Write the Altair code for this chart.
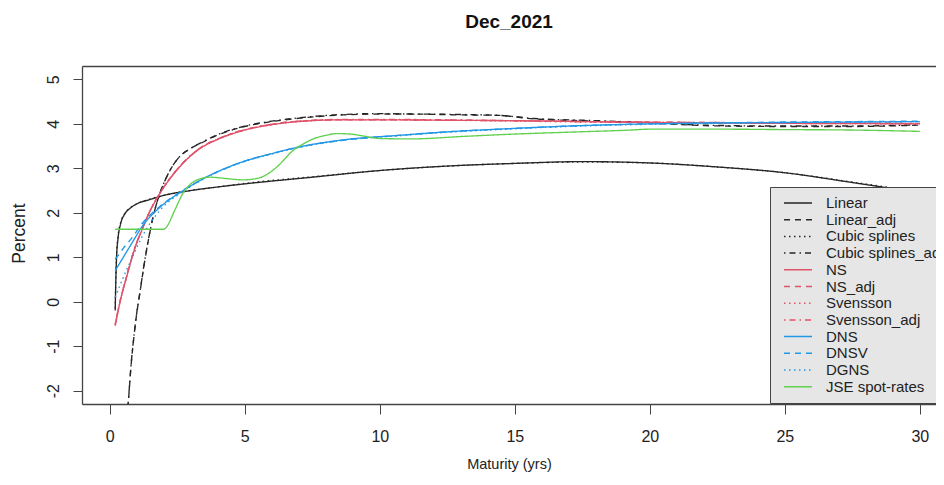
import altair as alt
import pandas as pd

FONT = "Liberation Sans"

series_names = ["Linear", "Linear_adj", "Cubic splines", "Cubic splines_adj",
                "NS", "NS_adj", "Svensson", "Svensson_adj",
                "DNS", "DNSV", "DGNS", "JSE spot-rates"]
series_colors = ["#262626", "#262626", "#262626", "#262626",
                 "#DF536B", "#DF536B", "#DF536B", "#DF536B",
                 "#2297E6", "#2297E6", "#2297E6", "#61D04F"]
series_dashes = [[1, 0], [6, 5], [1.5, 3.5], [1.5, 4, 6, 4],
                 [1, 0], [6, 5], [1.5, 3.5], [1.5, 4, 6, 4],
                 [1, 0], [6, 5], [1.5, 3.5], [1, 0]]

# black, un-adjusted
lin_t = [0.2, 0.22, 0.25, 0.3, 0.4, 0.55, 0.75, 1.0, 1.5, 2, 3, 4, 5, 7.5, 10,
         12.5, 15, 17.5, 20, 22.5, 25, 27.5, 30]
linear_v = [-0.2, 0.4, 1.0, 1.4, 1.75, 1.97, 2.1, 2.2, 2.3, 2.39, 2.5, 2.58, 2.65,
            2.8, 2.95, 3.05, 3.11, 3.15, 3.12, 3.03, 2.9, 2.68, 2.45]
cubic_v = [-0.15, 0.45, 1.05, 1.45, 1.78, 1.98, 2.11, 2.2, 2.31, 2.39, 2.5, 2.58, 2.66,
           2.81, 2.95, 3.05, 3.11, 3.14, 3.12, 3.03, 2.9, 2.69, 2.46]

# black, adjusted
adj_t = [0.6, 0.68, 0.8, 0.9, 1.0, 1.11, 1.25, 1.38, 1.6, 1.85, 2.1, 2.47, 3.0, 3.33,
         4.0, 4.94, 6.0, 6.79, 8.64, 10, 11.1, 13, 14.4, 15.7, 18.1, 20.6, 22, 25,
         27.4, 30]
linear_adj_v = [-2.9, -2.3, -1.35, -0.75, -0.25, 0.18, 0.75, 1.22, 1.9, 2.43, 2.8,
                3.18, 3.45, 3.55, 3.75, 3.93, 4.05, 4.11, 4.2, 4.22, 4.22, 4.2, 4.19,
                4.11, 4.06, 4.0, 3.96, 3.94, 3.94, 3.97]
cubic_adj_v = [-2.85, -2.28, -1.33, -0.74, -0.24, 0.19, 0.76, 1.23, 1.9, 2.43, 2.8,
               3.18, 3.45, 3.56, 3.76, 3.94, 4.06, 4.12, 4.21, 4.23, 4.22, 4.21, 4.19,
               4.12, 4.07, 4.01, 3.97, 3.95, 3.95, 3.98]

# red family
ns_t = [0.2, 0.4, 0.62, 0.9, 1.23, 1.5, 1.85, 2.47, 3.33, 4.0, 4.94, 6.0, 6.79, 8.64,
        10, 12.5, 15, 17.5, 20, 25, 30]
ns_v = [-0.54, 0.05, 0.55, 1.15, 1.67, 2.05, 2.43, 2.95, 3.44, 3.65, 3.85, 3.98, 4.04,
        4.09, 4.09, 4.08, 4.07, 4.05, 4.03, 4.01, 4.0]
ns_adj_v = [-0.52, 0.06, 0.56, 1.16, 1.68, 2.06, 2.44, 2.96, 3.45, 3.66, 3.86, 3.99,
            4.05, 4.09, 4.09, 4.08, 4.07, 4.05, 4.04, 4.02, 4.01]
sv_v = [-0.53, 0.05, 0.55, 1.15, 1.67, 2.05, 2.43, 2.95, 3.44, 3.65, 3.85, 3.98, 4.04,
        4.09, 4.09, 4.08, 4.06, 4.04, 4.03, 4.01, 4.0]
sv_adj_v = [-0.5, 0.07, 0.57, 1.17, 1.68, 2.06, 2.44, 2.96, 3.45, 3.66, 3.86, 3.99,
            4.05, 4.1, 4.1, 4.09, 4.07, 4.05, 4.04, 4.02, 4.01]

# blue family
dns_t = [0.2, 0.5, 0.8, 1.23, 1.85, 2.72, 3.7, 4.94, 6.0, 6.79, 8.64, 10.7, 12.5, 14.4,
         17, 19.3, 22.5, 25, 27.5, 30]
dns_v = [0.7, 1.0, 1.3, 1.72, 2.12, 2.5, 2.84, 3.15, 3.33, 3.45, 3.64, 3.74, 3.82, 3.88,
         3.95, 3.99, 4.02, 4.03, 4.04, 4.05]
dnsv_v = [0.95, 1.2, 1.42, 1.78, 2.14, 2.51, 2.84, 3.15, 3.33, 3.45, 3.63, 3.74, 3.82,
          3.88, 3.95, 3.99, 4.02, 4.04, 4.05, 4.06]
dgns_v = [0.1, 0.55, 0.95, 1.5, 2.05, 2.48, 2.83, 3.14, 3.32, 3.44, 3.63, 3.73, 3.81,
          3.87, 3.94, 3.98, 4.01, 4.03, 4.04, 4.05]

# green
jse_t = [0.2, 1.0, 2.0, 2.1, 2.4, 2.72, 3.0, 3.33, 3.7, 4.3, 4.94, 5.56, 6.17, 6.79,
         7.2, 7.53, 8.0, 8.4, 8.9, 9.26, 10, 11.1, 13.2, 15, 16.9, 19.3, 20, 22.5, 25,
         27.5, 30]
jse_v = [1.63, 1.63, 1.63, 1.68, 2.05, 2.45, 2.65, 2.76, 2.8, 2.77, 2.74, 2.79, 3.02,
         3.4, 3.56, 3.66, 3.74, 3.78, 3.77, 3.74, 3.67, 3.66, 3.72, 3.77, 3.81, 3.86,
         3.88, 3.88, 3.87, 3.86, 3.83]

x_ticks = [0, 5, 10, 15, 20, 25, 30]
y_ticks = [-2, -1, 0, 1, 2, 3, 4, 5]

pairs = [(lin_t, linear_v), (adj_t, linear_adj_v), (lin_t, cubic_v), (adj_t, cubic_adj_v),
         (ns_t, ns_v), (ns_t, ns_adj_v), (ns_t, sv_v), (ns_t, sv_adj_v),
         (dns_t, dns_v), (dns_t, dnsv_v), (dns_t, dgns_v), (jse_t, jse_v)]

rows = []
for i, (name, (ts, vs)) in enumerate(zip(series_names, pairs)):
    for t, v in zip(ts, vs):
        rows.append({"series": name, "order": i, "maturity": t, "percent": v})
df = pd.DataFrame(rows)

BOX = "#444444"
x_scale = alt.Scale(domain=[-1.03, 30.6], nice=False, zero=False)
y_scale = alt.Scale(domain=[-2.3, 5.3], nice=False, zero=False)

legend = alt.Legend(
    orient="none", legendX=688, legendY=121, title=None,
    fillColor="#e6e6e6", strokeColor=BOX, padding=8,
    symbolType="M-2,0H2", symbolSize=196, symbolStrokeWidth=1.5,
    symbolOffset=12, labelOffset=20, labelFont=FONT, labelFontSize=15,
    labelColor="#222222", labelLimit=400, rowPadding=0.7, zindex=1,
)

lines = alt.Chart(df).mark_line(interpolate="monotone", strokeWidth=1.35, clip=True).encode(
    x=alt.X("maturity:Q", title="Maturity (yrs)", scale=x_scale,
            axis=alt.Axis(values=x_ticks, grid=False, domain=True, domainColor=BOX,
                          domainWidth=1.3, tickSize=10,
                          tickColor=BOX, labelFont=FONT, labelFontSize=16,
                          labelColor="#222222", labelPadding=14,
                          labelExpr="'' + datum.value",
                          titleFont=FONT, titleFontSize=14.5, titleFontWeight="normal",
                          titleColor="#222222", titleY=53, titleBaseline="top")),
    y=alt.Y("percent:Q", title="Percent", scale=y_scale,
            axis=alt.Axis(values=y_ticks, grid=False, domain=True, domainColor=BOX,
                          domainWidth=1.3, tickSize=9,
                          tickColor=BOX, labelFont=FONT, labelFontSize=16,
                          labelColor="#222222", labelAngle=270, labelAlign="center",
                          labelBaseline="bottom", labelPadding=12,
                          labelExpr="'' + datum.value",
                          titleFont=FONT, titleFontSize=17.5, titleFontWeight="normal",
                          titleColor="#222222", titleX=-63, titleY=167,
                          titleBaseline="middle", titleAlign="center")),
    color=alt.Color("series:N", scale=alt.Scale(domain=series_names, range=series_colors),
                    legend=legend),
    strokeDash=alt.StrokeDash("series:N",
                              scale=alt.Scale(domain=series_names, range=series_dashes),
                              legend=legend),
    order=alt.Order("order:Q"),
)

# invisible layer that only carries the top side of the plot frame
frame_top = alt.Chart(df).mark_line(opacity=0, clip=True).encode(
    x=alt.X("maturity:Q", scale=x_scale,
            axis=alt.Axis(orient="top", domain=True, domainColor=BOX, domainWidth=1.3,
                          ticks=False, labels=False, grid=False, title=None)),
    y=alt.Y("percent:Q", scale=y_scale, axis=None),
    detail="series:N",
)

chart = alt.layer(lines, frame_top).resolve_axis(x="independent", y="independent").properties(
    width=854, height=338,
    title=alt.TitleParams("Dec_2021", font=FONT, fontSize=19, fontWeight="bold",
                          color="#111111", anchor="middle", baseline="alphabetic",
                          offset=19),
    autosize=alt.AutoSizeParams(type="none"),
    padding={"left": 74, "top": 58, "right": 0, "bottom": 69},
).configure_view(stroke=None).configure(background="white")

chart.save("out.html", embed_options={"renderer": "svg", "actions": False})
